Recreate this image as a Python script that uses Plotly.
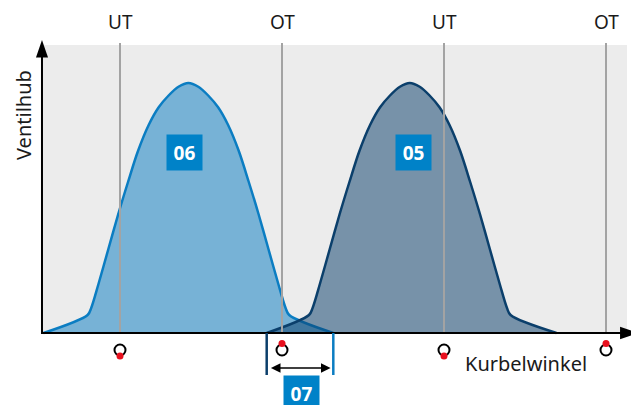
import plotly.graph_objects as go

# ---- data (crank angle in degrees, valve lift in mm) ----
markers_x = [180, 360, 540, 720]
markers_label = ["UT", "OT", "UT", "OT"]

lift_heights = [0, 0.72, 1.0, 1.95, 3.35, 4.75, 6.05, 7.28, 8.33, 9.03, 9.5, 9.85, 10,
                9.85, 9.5, 9.03, 8.33, 7.28, 6.05, 4.75, 3.35, 1.95, 1.0, 0.72, 0]
valve06_x = [95, 144, 148, 156, 167, 178, 189, 200, 212, 223, 234, 245, 256,
             267, 278, 289, 300, 312, 323, 334, 345, 356, 364, 368, 417]
valve05_x = [343, 390, 394, 402, 413, 424, 435, 446, 458, 469, 480, 491, 502,
             513, 524, 535, 546, 558, 569, 580, 591, 602, 610, 614, 665]
overlap_range = [343, 417]

# ---- geometry (0.9 px/deg, 25 px/mm; page body has an 8 px margin) ----
X0 = 55.56
X1 = X0 + 631 / 0.9
Y1 = 13.0
Y0 = Y1 - 397 / 25
ORIGIN_X = 93.33

C06_LINE = "#0b7dc2"
C06_FILL = "rgba(11,125,194,0.52)"
C05_LINE = "#0b3f6b"
C05_FILL = "rgba(11,63,107,0.52)"
BOX = "#0082c8"
FONT = "Noto Sans"

fig = go.Figure()

fig.add_trace(go.Scatter(x=valve06_x, y=lift_heights, mode="lines",
                         line=dict(color=C06_LINE, width=2.5, shape="spline", smoothing=0.9),
                         fill="tozeroy", fillcolor=C06_FILL, hoverinfo="skip"))
fig.add_trace(go.Scatter(x=valve05_x, y=lift_heights, mode="lines",
                         line=dict(color=C05_LINE, width=2.5, shape="spline", smoothing=0.9),
                         fill="tozeroy", fillcolor=C05_FILL, hoverinfo="skip"))

shapes = []
shapes.append(dict(type="rect", xref="x", yref="y", x0=ORIGIN_X, x1=743.3, y0=0, y1=11.52,
                   fillcolor="#ececec", line=dict(width=0), layer="below"))
for mx in markers_x:
    shapes.append(dict(type="line", xref="x", yref="y", x0=mx, x1=mx, y0=0, y1=11.6,
                       line=dict(color="#a3a3a3", width=2), layer="above"))
shapes.append(dict(type="line", xref="x", yref="y", x0=ORIGIN_X, x1=ORIGIN_X, y0=-0.04, y1=11.1,
                   line=dict(color="black", width=2)))
shapes.append(dict(type="path", xref="x", yref="y",
                   path=f"M {ORIGIN_X},11.72 L {ORIGIN_X-6.7},11.02 L {ORIGIN_X+6.7},11.02 Z",
                   fillcolor="black", line=dict(width=0)))
shapes.append(dict(type="line", xref="x", yref="y", x0=ORIGIN_X, x1=737, y0=0, y1=0,
                   line=dict(color="black", width=2)))
shapes.append(dict(type="path", xref="x", yref="y",
                   path="M 755.6,0 L 735.6,0.25 L 735.6,-0.25 Z",
                   fillcolor="black", line=dict(width=0)))
shapes.append(dict(type="line", xref="x", yref="y", x0=overlap_range[0], x1=overlap_range[0],
                   y0=0, y1=-1.68, line=dict(color=C05_LINE, width=2.5)))
shapes.append(dict(type="line", xref="x", yref="y", x0=overlap_range[1], x1=overlap_range[1],
                   y0=0, y1=-1.68, line=dict(color=C06_LINE, width=2.5)))

fig.add_trace(go.Scatter(x=markers_x, y=[-0.68] * len(markers_x), mode="markers",
                         marker=dict(symbol="circle", size=11, color="white",
                                     line=dict(color="black", width=2)), hoverinfo="skip"))
dot_y = [-0.92 if l == "UT" else -0.42 for l in markers_label]
fig.add_trace(go.Scatter(x=markers_x, y=dot_y, mode="markers",
                         marker=dict(symbol="circle", size=7, color="#e8101e"), hoverinfo="skip"))

annotations = []
for mx, lab in zip(markers_x, markers_label):
    annotations.append(dict(x=mx, y=12.44, xref="x", yref="y", text=lab, showarrow=False,
                            font=dict(family=FONT, size=19, color="#1a1a1a")))
annotations.append(dict(x=72.2, y=8.72, xref="x", yref="y", text="Ventilhub", textangle=-90,
                        showarrow=False, font=dict(family=FONT, size=20, color="#1a1a1a")))
annotations.append(dict(x=631, y=-1.2, xref="x", yref="y", text="Kurbelwinkel",
                        showarrow=False, font=dict(family=FONT, size=20, color="#1a1a1a")))
for bx, by, txt in [(251.7, 7.22, "06"), (506.1, 7.22, "05"), (381.7, -2.42, "07")]:
    annotations.append(dict(x=bx, y=by, xref="x", yref="y", text=f"<b>{txt}</b>", showarrow=False,
                            bgcolor=BOX, width=35, height=35, borderpad=0,
                            font=dict(family=FONT, size=19, color="white")))
annotations.append(dict(x=overlap_range[1] - 3, y=-1.4, ax=overlap_range[0] + 3, ay=-1.4,
                        xref="x", yref="y", axref="x", ayref="y", text="", showarrow=True,
                        arrowhead=2, startarrowhead=2, arrowside="end+start",
                        arrowsize=1.2, startarrowsize=1.2, arrowwidth=1.6, arrowcolor="black",
                        standoff=0, startstandoff=0))

fig.update_layout(
    width=631, height=397,
    margin=dict(l=0, r=0, t=0, b=0),
    paper_bgcolor="white", plot_bgcolor="white",
    showlegend=False,
    xaxis=dict(range=[X0, X1], visible=False, fixedrange=True),
    yaxis=dict(range=[Y0, Y1], visible=False, fixedrange=True),
    shapes=shapes, annotations=annotations,
)

fig.write_html("out.html")
